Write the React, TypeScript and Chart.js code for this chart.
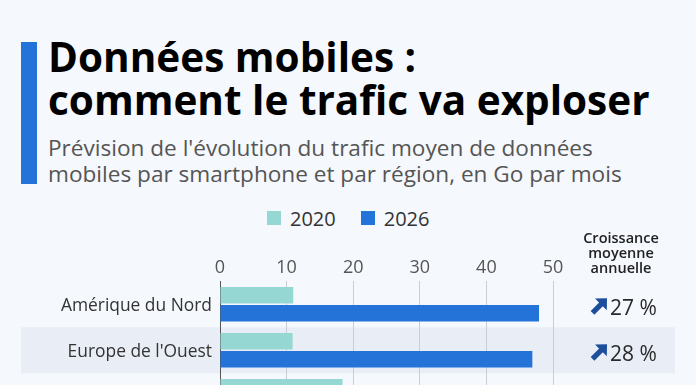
import React, { useEffect, useRef } from "react";
import { Chart, registerables } from "chart.js";

Chart.register(...registerables);

const categories = ["Amérique du Nord", "Europe de l'Ouest", "Asie du Nord-Est"];
const series2020 = [11.0, 10.9, 18.4];
const series2026 = [47.9, 46.9, 48.0];
const growth = ["27 %", "28 %", "17 %"];
const seriesLabels = ["2020", "2026"];
const xTicks = [0, 10, 20, 30, 40, 50];

const COLOR_2020 = "#95d8d3";
const COLOR_2026 = "#2373d9";
const BG = "#f5f8fc";
const BAND = "#e9eef6";
const FONT = "'Open Sans', 'DejaVu Sans', sans-serif";

export default function App() {
  const ref = useRef<HTMLCanvasElement | null>(null);

  useEffect(() => {
    document.body.style.margin = "0";
    const canvas = ref.current;
    if (!canvas) return;

    const bandPlugin = {
      id: "bands",
      beforeDraw(chart: any) {
        const { ctx } = chart;
        const y = chart.scales.y;
        const step = chart.chartArea.height / categories.length;
        ctx.save();
        ctx.fillStyle = BAND;
        categories.forEach((_, i) => {
          if (i % 2 === 1) {
            const c = y.getPixelForValue(i);
            ctx.fillRect(21, c - step / 2, 654, step);
          }
        });
        ctx.restore();
      },
    };

    const growthPlugin = {
      id: "growth",
      afterDraw(chart: any) {
        const { ctx } = chart;
        const y = chart.scales.y;
        ctx.save();
        ctx.fillStyle = "#222";
        ctx.textAlign = "center";
        ctx.textBaseline = "alphabetic";
        ctx.font = `600 14.5px ${FONT}`;
        ctx.fillText("Croissance", 621, 17.7);
        ctx.fillText("moyenne", 621, 33);
        ctx.fillText("annuelle", 621, 48.3);
        categories.forEach((_, i) => {
          const c = y.getPixelForValue(i);
          const base = c + 11;
          // arrow
          const x0 = 592.5, y0 = base - 2.5;
          const x1 = 607, y1 = base - 17;
          ctx.strokeStyle = "#1c4e9c";
          ctx.fillStyle = "#1c4e9c";
          ctx.lineWidth = 5.2;
          ctx.lineCap = "butt";
          ctx.beginPath();
          ctx.moveTo(x0, y0);
          ctx.lineTo(x1 - 4.5, y1 + 4.5);
          ctx.stroke();
          ctx.beginPath();
          ctx.moveTo(x1, y1);
          ctx.lineTo(x1 - 0.2, y1 + 12);
          ctx.lineTo(x1 - 12, y1 + 0.2);
          ctx.closePath();
          ctx.fill();
          ctx.fillStyle = "#2a2a2a";
          ctx.textAlign = "left";
          ctx.font = `400 21px ${FONT}`;
          ctx.fillText(growth[i], 610, base);
        });
        ctx.restore();
      },
    };

    const chart = new Chart(canvas, {
      type: "bar",
      data: {
        labels: categories,
        datasets: [
          {
            label: seriesLabels[0],
            data: series2020,
            backgroundColor: COLOR_2020,
            barPercentage: 0.92,
            categoryPercentage: 0.78,
          },
          {
            label: seriesLabels[1],
            data: series2026,
            backgroundColor: COLOR_2026,
            barPercentage: 0.92,
            categoryPercentage: 0.78,
          },
        ],
      },
      options: {
        indexAxis: "y",
        animation: false,
        responsive: false,
        maintainAspectRatio: false,
        layout: { padding: { left: 0, right: 143, top: 0, bottom: 5.7 } },
        plugins: {
          legend: { display: false },
          tooltip: { enabled: false },
          title: { display: false },
        },
        scales: {
          x: {
            position: "top",
            min: xTicks[0],
            max: xTicks[xTicks.length - 1],
            afterFit(scale: any) {
              scale.height = 56.3;
              scale.paddingLeft = 0;
              scale.paddingRight = 0;
            },
            afterBuildTicks(scale: any) {
              scale.ticks = xTicks.map((v) => ({ value: v }));
            },
            grid: { color: "#c9ced6", drawTicks: false, lineWidth: 1 },
            border: { display: false },
            ticks: {
              padding: 3,
              color: "#555",
              font: { family: FONT, size: 18 },
            },
          },
          y: {
            afterFit(scale: any) {
              scale.width = 220;
              scale.paddingTop = 0;
              scale.paddingBottom = 0;
            },
            grid: { display: false, drawTicks: false },
            border: { display: true, color: "#555", width: 1 },
            ticks: {
              padding: 8,
              labelOffset: 1.5,
              color: "#333",
              font: { family: FONT, size: 17.4 },
            },
          },
        },
      },
      plugins: [bandPlugin, growthPlugin],
    });
    return () => chart.destroy();
  }, []);

  return (
    <div
      style={{
        position: "absolute",
        left: 0,
        top: 0,
        width: 696,
        height: 385,
        overflow: "hidden",
        background: BG,
        fontFamily: FONT,
      }}
    >
      <div
        style={{
          position: "absolute",
          left: 21,
          top: 42,
          width: 16,
          height: 142,
          background: "#2373d9",
        }}
      />
      <div
        style={{
          position: "absolute",
          left: 48,
          top: 34.5,
          fontSize: 40.5,
          lineHeight: "43px",
          fontWeight: 700,
          color: "#000",
          whiteSpace: "nowrap",
        }}
      >
        Données mobiles :<br />
        comment le trafic va exploser
      </div>
      <div
        style={{
          position: "absolute",
          left: 48,
          top: 134.9,
          fontSize: 22.6,
          lineHeight: "26px",
          fontWeight: 400,
          color: "#555",
          whiteSpace: "nowrap",
        }}
      >
        Prévision de l'évolution du trafic moyen de données
        <br />
        mobiles par smartphone et par région, en Go par mois
      </div>
      <div
        style={{
          position: "absolute",
          left: 267,
          top: 204,
          height: 28,
          display: "flex",
          alignItems: "center",
          fontSize: 20,
          color: "#333",
          whiteSpace: "nowrap",
        }}
      >
        <span style={{ width: 14, height: 14, background: COLOR_2020, display: "inline-block" }} />
        <span style={{ marginLeft: 9, marginRight: 25 }}>{seriesLabels[0]}</span>
        <span style={{ width: 14, height: 14, background: COLOR_2026, display: "inline-block" }} />
        <span style={{ marginLeft: 9 }}>{seriesLabels[1]}</span>
      </div>
      <canvas
        ref={ref}
        width={696}
        height={200}
        style={{ position: "absolute", left: 0, top: 225, width: 696, height: 200 }}
      />
    </div>
  );
}
